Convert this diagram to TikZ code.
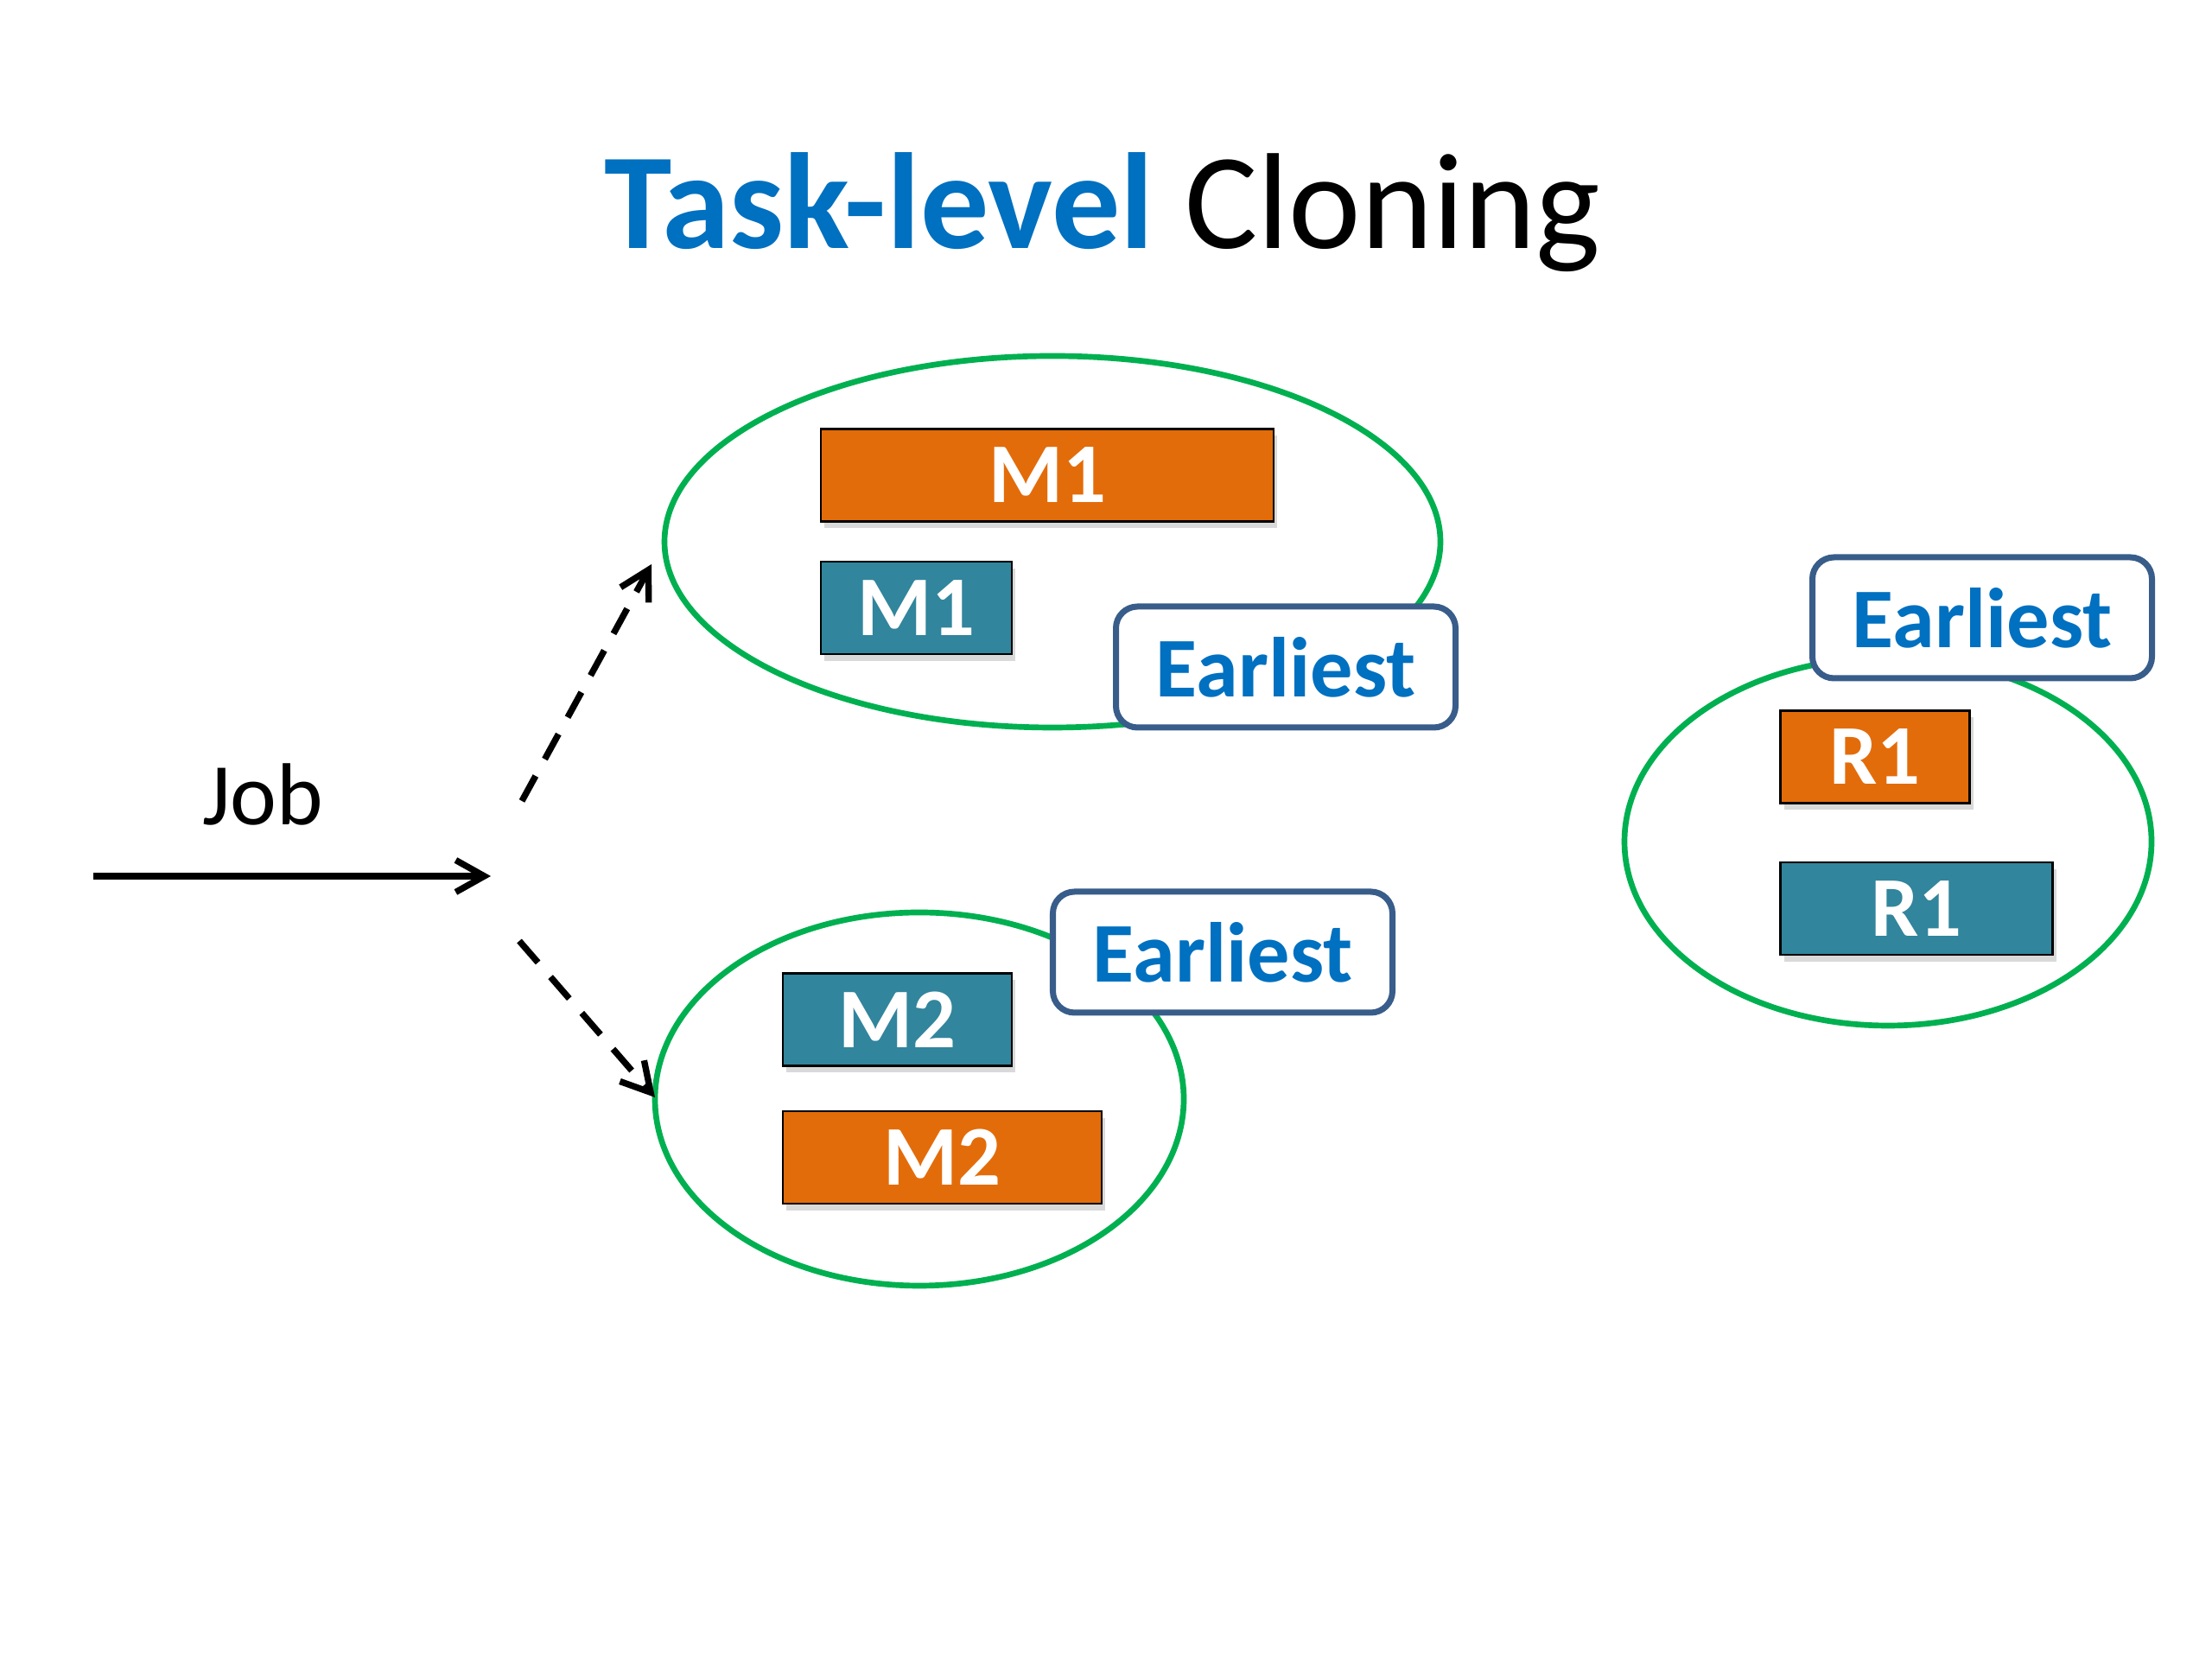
\documentclass[tikz,border=0pt]{standalone}
\usepackage{fontspec}
\setmainfont{Carlito}
\usepackage{xcolor}
\usepackage{tikz}
\usetikzlibrary{shapes,arrows.meta,positioning,shadows}
\definecolor{taskorange}{RGB}{227,108,10}
\definecolor{taskteal}{RGB}{49,133,156}
\definecolor{poolgreen}{RGB}{0,176,80}
\definecolor{tagblue}{RGB}{0,112,192}
\definecolor{tagedge}{RGB}{56,93,138}
\tikzstyle{pool} = [ellipse, draw=poolgreen, line width=1.9pt, inner sep=0pt]
\tikzstyle{task} = [rectangle, draw=black, line width=0.7pt, inner sep=0pt, minimum height=1.07cm, text=white, font=\fontsize{28}{32}\selectfont\bfseries, drop shadow={shadow xshift=0.4mm, shadow yshift=-0.8mm, opacity=0.3}]
\tikzstyle{orig} = [task, fill=taskorange]
\tikzstyle{clone} = [task, fill=taskteal]
\tikzstyle{tag} = [rectangle, rounded corners=0.25cm, draw=tagedge, line width=2pt, fill=white, inner sep=0pt, minimum width=3.93cm, minimum height=1.4cm, text=tagblue, font=\fontsize{28}{32}\selectfont\bfseries]
\tikzstyle{arrow} = [line width=2.1pt, -{Straight Barb[length=3.3mm,width=3.7mm]}]
\tikzstyle{dasharrow} = [arrow, dash pattern=on 9.4pt off 6.3pt]

\begin{document}
\begin{tikzpicture}[node distance=1cm]
    \useasboundingbox (0,0) rectangle (25.6,19.2);
    \node[anchor=base, font=\fontsize{45}{54}\selectfont] (title) at (12.76,16.32) {{\bfseries\color{tagblue}Task-level} Cloning};
    % map pools
    \node[pool, minimum width=8.98cm, minimum height=4.30cm] (poolm1) at (12.18,12.93) {};
    \node[orig, minimum width=5.24cm] (m1a) at (12.12,13.70) {M1};
    \node[clone, minimum width=2.21cm, below=0.44cm of m1a.south west, anchor=north west] (m1b) {M1};
    \node[tag] (tagm1) at (14.88,11.48) {Earliest};
    \node[pool, minimum width=6.12cm, minimum height=4.32cm] (poolm2) at (10.64,6.48) {};
    \node[clone, minimum width=2.65cm] (m2b) at (10.385,7.40) {M2};
    \node[orig, minimum width=3.69cm, below=0.50cm of m2b.south west, anchor=north west] (m2a) {M2};
    \node[tag] (tagm2) at (14.15,8.18) {Earliest};
    % reduce pool
    \node[pool, minimum width=6.10cm, minimum height=4.26cm] (poolr1) at (21.85,9.46) {};
    \node[orig, minimum width=2.19cm] (r1a) at (21.70,10.44) {R1};
    \node[clone, minimum width=3.15cm, below=0.66cm of r1a.south west, anchor=north west] (r1b) {R1};
    \node[tag] (tagr1) at (22.94,12.05) {Earliest};
    % job arrows
    \coordinate (jobin) at (1.08,9.06);
    \coordinate (split) at (5.68,9.06);
    \coordinate (upfrom) at (6.04,9.93);
    \coordinate (upto) at (7.54,12.67);
    \coordinate (downfrom) at (6.01,8.31);
    \coordinate (downto) at (7.58,6.50);
    \draw[arrow] (jobin) -- (split);
    \node[anchor=base, font=\fontsize{29}{34}\selectfont] (job) at (3.04,9.65) {Job};
    \draw[dasharrow] (upfrom) -- (upto);
    \draw[dasharrow] (downfrom) -- (downto);
\end{tikzpicture}
\end{document}
